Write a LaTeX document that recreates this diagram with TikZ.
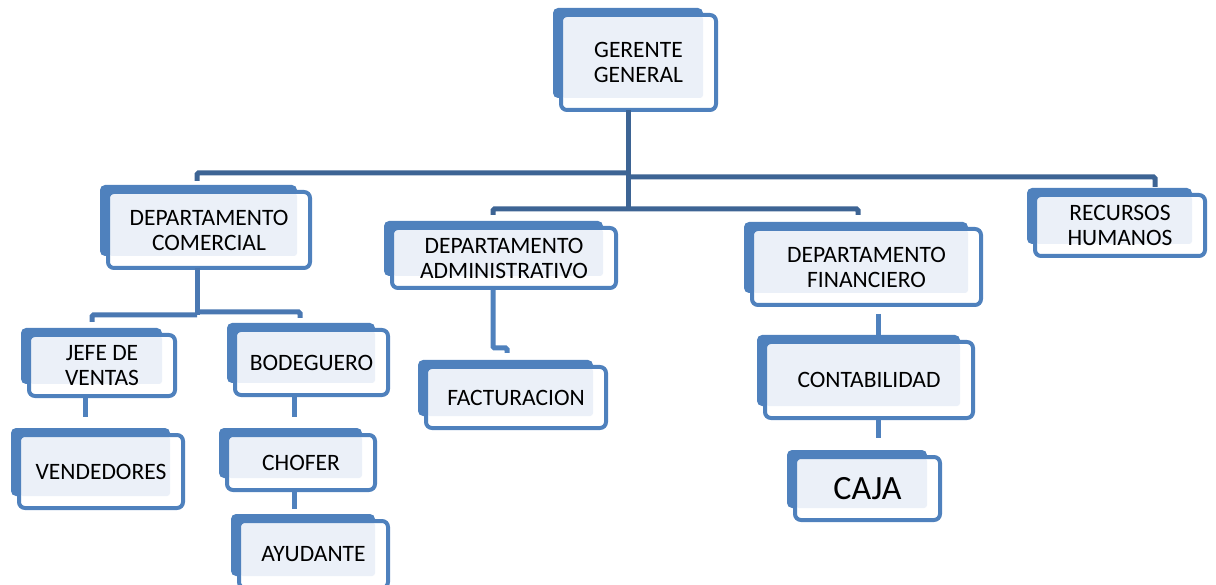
\documentclass[tikz,border=0pt]{standalone}
\usepackage{fontspec}
\setmainfont{Carlito}
\definecolor{boxblue}{HTML}{4F81BD}
\definecolor{lightfill}{HTML}{EBF0F8}
\definecolor{darkconn}{HTML}{3D6494}
\definecolor{midconn}{HTML}{4A78B2}
\tikzset{
  frontbox/.style={draw=boxblue, line width=4pt, rounded corners=6pt, align=center,
    text=black, font=\fontsize{23.5}{25}\selectfont, inner sep=0pt, outer sep=0pt},
  bigtext/.style={font=\fontsize{34}{36}\selectfont},
  connd/.style={draw=darkconn, line width=5pt, rounded corners=1.5pt},
  connm/.style={draw=midconn, line width=5pt, rounded corners=1.5pt},
  connl/.style={draw=boxblue, line width=5pt, rounded corners=1.5pt},
}
\newcommand\orgbox[7][]{%
  \fill[boxblue, rounded corners=5pt] (#3-6,#4-5) rectangle (#5-15,#6-14);
  \fill[white, rounded corners=6pt] (#3+2,#4+2) rectangle (#5-2,#6-2);
  \fill[lightfill, rounded corners=3pt] (#3+3,#4+3) rectangle (#5-15,#6-14);
  \node[frontbox, minimum width={(#5-#3-4)*1pt}, minimum height={(#6-#4-4)*1pt}, #1]
    (#2) at ({(#3+#5)/2},{(#4+#6)/2}) {#7};
}
\begin{document}
\begin{tikzpicture}[x=1pt,y=-1pt]
\useasboundingbox (0,0) rectangle (1216,585);
\clip (0,0) rectangle (1216,585);

% junction coordinates
\coordinate (j1) at (628,173);
\coordinate (j2) at (628,177);
\coordinate (jm) at (628,209);
\coordinate (tdc) at (197,181);
\coordinate (trh) at (1155,187);
\coordinate (tadm) at (493,215);
\coordinate (tfin) at (858,215);

% upper connectors (behind boxes)
\draw[connd] (tdc) -- (197,173) -- (j1);
\draw[connd] (j2) -- (1155,177) -- (trh);
\draw[connd] (tadm) -- (493,209) -- (jm) -- (858,209) -- (tfin);

% boxes
\orgbox{gg}{559}{13}{718}{112}{GERENTE\\GENERAL}
\orgbox{dc}{106}{190}{312}{270}{DEPARTAMENTO\\COMERCIAL}
\orgbox{adm}{390}{226}{618}{290}{DEPARTAMENTO\\ADMINISTRATIVO}
\orgbox{fin}{750}{227}{983}{307}{DEPARTAMENTO\\FINANCIERO}
\orgbox{rh}{1033}{193}{1207}{258}{RECURSOS\\HUMANOS}
\orgbox{jv}{27}{333}{177}{398}{JEFE DE\\VENTAS}
\orgbox{ven}{17}{433}{185}{510}{VENDEDORES}
\orgbox{bod}{233}{328}{390}{397}{BODEGUERO}
\orgbox{cho}{225}{433}{377}{492}{CHOFER}
\orgbox{ayu}{237}{519}{390}{590}{AYUDANTE}
\orgbox{fac}{424}{365}{608}{430}{FACTURACION}
\orgbox{con}{763}{340}{975}{420}{CONTABILIDAD}
\orgbox[bigtext]{caja}{793}{455}{942}{522}{CAJA}

% stem from gerente general
\draw[connd] (gg.south -| jm) -- (jm);

% departamento comercial children
\coordinate (jdc) at (197,315);
\draw[connm] (dc.south -| jdc) -- (jdc);
\draw[connm] (92,322) -- (92,315) -- (jdc);
\draw[connm] (197,312) -- (300,312) -- (300,318);

% short light connectors
\draw[connl] (jv.south -| 85,0) -- (85,417);
\draw[connl] (bod.south -| 294,0) -- (294,417);
\draw[connl] (cho.south -| 294,0) -- (294,509);
\draw[connl] (adm.south -| 493,0) -- (493,348) -- (507,348) -- (507,353);
\draw[connl] (878,314) -- (con.north -| 878,0);
\draw[connl] (con.south -| 878,0) -- (878,438);
\end{tikzpicture}
\end{document}
